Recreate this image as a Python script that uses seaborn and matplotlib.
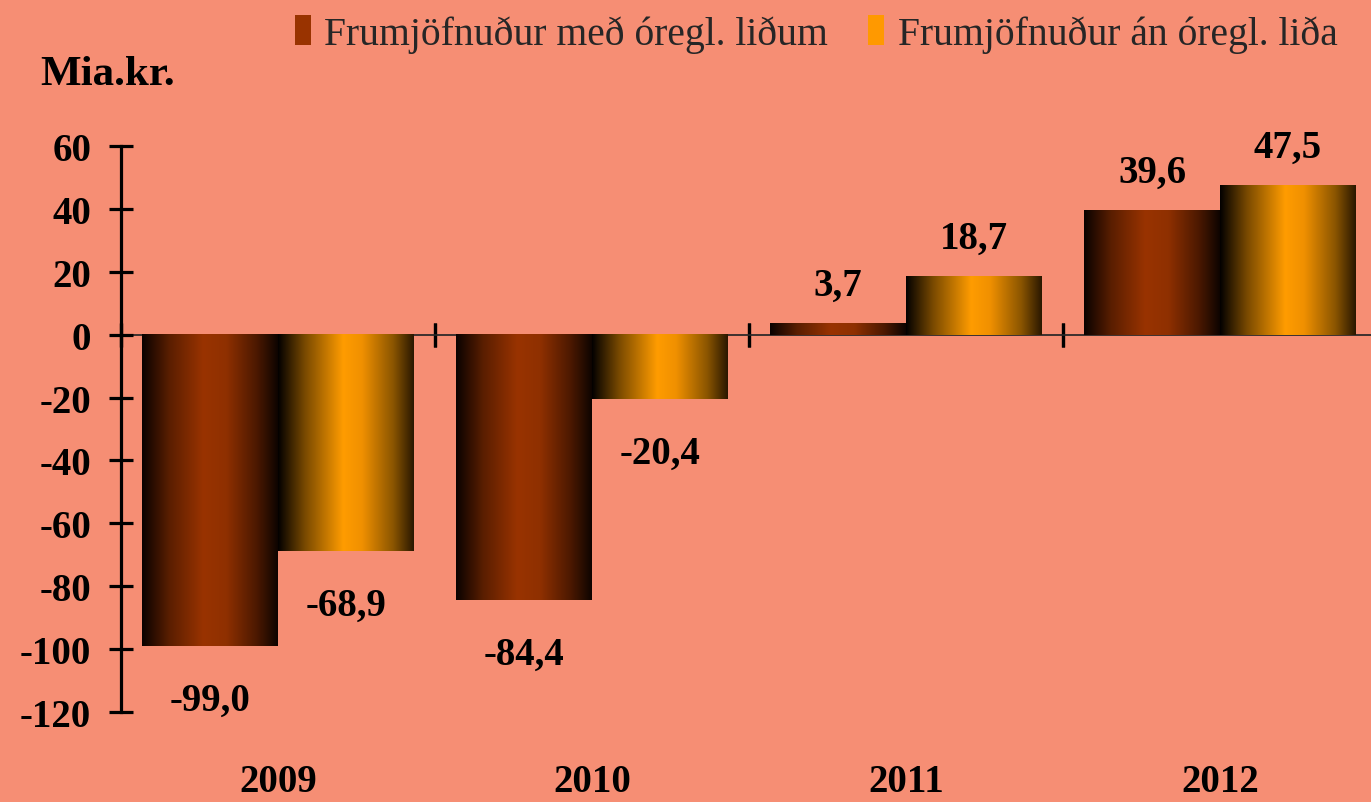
import numpy as np
import pandas as pd
import matplotlib
matplotlib.use("Agg")
import matplotlib.pyplot as plt
import seaborn as sns
from matplotlib.colors import LinearSegmentedColormap
from matplotlib.patches import Patch

years = ["2009", "2010", "2011", "2012"]
med_oregl = [-99.0, -84.4, 3.7, 39.6]
an_oregl = [-68.9, -20.4, 18.7, 47.5]
series = ["Frumjöfnuður með óregl. liðum", "Frumjöfnuður án óregl. liða"]
yticks = [60, 40, 20, 0, -20, -40, -60, -80, -100, -120]

df = pd.DataFrame({
    "ar": years * 2,
    "gildi": med_oregl + an_oregl,
    "rod": [series[0]] * 4 + [series[1]] * 4,
})

bg = "#F68E74"
sns.set_theme(style="white")
plt.rcParams["font.family"] = ["Liberation Serif", "DejaVu Serif"]

# litir með skyggingu eins og í frumritinu
cm_dark = LinearSegmentedColormap.from_list("dark", [
    (0.0, "#0a0200"), (0.2, "#5a1e00"), (0.45, "#993300"), (0.62, "#8f3000"),
    (0.85, "#4a1800"), (1.0, "#0e0400")])
cm_orange = LinearSegmentedColormap.from_list("orange", [
    (0.0, "#030100"), (0.2, "#7a4a00"), (0.48, "#ff9c00"), (0.62, "#f09000"),
    (0.85, "#8a5500"), (1.0, "#2a1800")])

fig = plt.figure(figsize=(13.71, 8.03), dpi=100, facecolor=bg)
ax = fig.add_axes([121 / 1371, 1 - 713 / 803, 1250 / 1371, 566 / 803])
ax.set_facecolor(bg)

sns.barplot(data=df, x="ar", y="gildi", hue="rod", palette=["#993300", "#FF9900"],
            width=0.866, gap=0, ax=ax, legend=False, saturation=1)

grad = np.linspace(0, 1, 256).reshape(1, -1)
for cont, cmap in zip(ax.containers, [cm_dark, cm_orange]):
    for bar in cont:
        x0, y0 = bar.get_x(), bar.get_y()
        w, h = bar.get_width(), bar.get_height()
        ax.imshow(grad, extent=[x0, x0 + w, min(y0, y0 + h), max(y0, y0 + h)],
                  aspect="auto", cmap=cmap, zorder=2, interpolation="bilinear")
        bar.set_visible(False)
        off = 27 if h >= 0 else -39
        ax.annotate(f"{h:.1f}".replace(".", ","), xy=(x0 + w / 2, h),
                    xytext=(0, off), textcoords="offset points", ha="center",
                    va="center", fontsize=28, fontweight="bold", color="black")

ax.set_xlim(-0.5, -0.5 + 1250 / 314)
ax.set_ylim(-120, 60)
ax.set_yticks(yticks)
ax.set_yticklabels([str(t) for t in yticks])
ax.set_xlabel("")
ax.set_ylabel("")

for s in ["top", "right", "bottom"]:
    ax.spines[s].set_visible(False)
ax.spines["left"].set_linewidth(2.3)
ax.spines["left"].set_color("black")
ax.tick_params(axis="y", left=True, direction="inout", length=17, width=2.3,
               color="black", labelsize=28, pad=13)
ax.tick_params(axis="x", bottom=False, length=0, labelsize=28, pad=37)
for lab in ax.get_xticklabels() + ax.get_yticklabels():
    lab.set_fontweight("bold")
    lab.set_color("black")

# núll-lína með skilum milli ára
sec = ax.secondary_xaxis(120 / 180)
sec.set_xticks([i - 0.5 for i in range(len(years))])
sec.set_xticklabels([])
sec.spines["bottom"].set_linewidth(2.3)
sec.spines["bottom"].set_color("black")
sec.tick_params(axis="x", bottom=True, direction="inout", length=17, width=2.3,
                color="black")

fig.text(40 / 1371, 1 - 75 / 803, "Mia.kr.", fontsize=31, fontweight="bold",
         ha="left", va="center", color="black")

handles = [Patch(facecolor="#993300", edgecolor="none"),
           Patch(facecolor="#FF9900", edgecolor="none")]
fig.legend(handles, series, loc="center", bbox_to_anchor=(816 / 1371, 1 - 35 / 803),
           ncol=2, frameon=False, fontsize=28.5, handlelength=0.4, handleheight=0.8,
           handletextpad=0.35, columnspacing=1.0)

fig.savefig("out.png", dpi=100, facecolor=bg)
